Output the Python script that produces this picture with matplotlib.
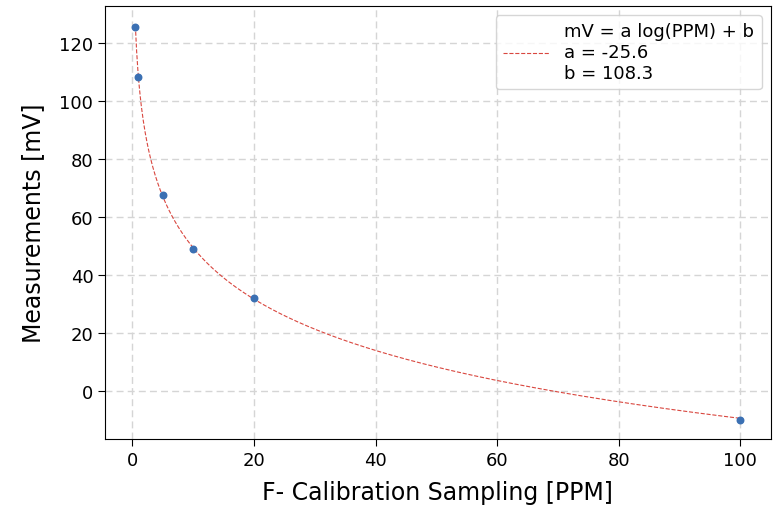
import numpy as np
import matplotlib.pyplot as plt

ppm = [0.5, 1, 5, 10, 20, 100]
mv = [125.5, 108.3, 67.5, 49.0, 32.0, -10.0]

# fit coefficients shown in the legend: mV = a*ln(PPM) + b
a, b = -25.6, 108.3

x_fit = np.linspace(min(ppm), max(ppm), 1000)
y_fit = a * np.log(x_fit) + b

fig = plt.figure(figsize=(7.73, 5.06), dpi=100)
ax = fig.add_axes([0.136, 0.130, 0.861, 0.856])

ax.plot(x_fit, y_fit, '--', color='#d9473f', linewidth=0.8,
        label=f"mV = a log(PPM) + b\na = {a:.1f}\nb = {b:.1f}")
ax.scatter(ppm, mv, s=22, color='#3b70b3', zorder=3)

ax.set_xlabel('F- Calibration Sampling [PPM]', fontsize=17, labelpad=8)
ax.set_ylabel('Measurements [mV]', fontsize=17, labelpad=10)
ax.tick_params(labelsize=13, length=5)
ax.grid(True, linestyle='--', color='#d5d5d5', linewidth=1, dashes=(5, 3))
ax.set_axisbelow(True)
ax.legend(fontsize=13, loc='upper right', handlelength=2.6)

plt.savefig('out.png')
plt.close()
